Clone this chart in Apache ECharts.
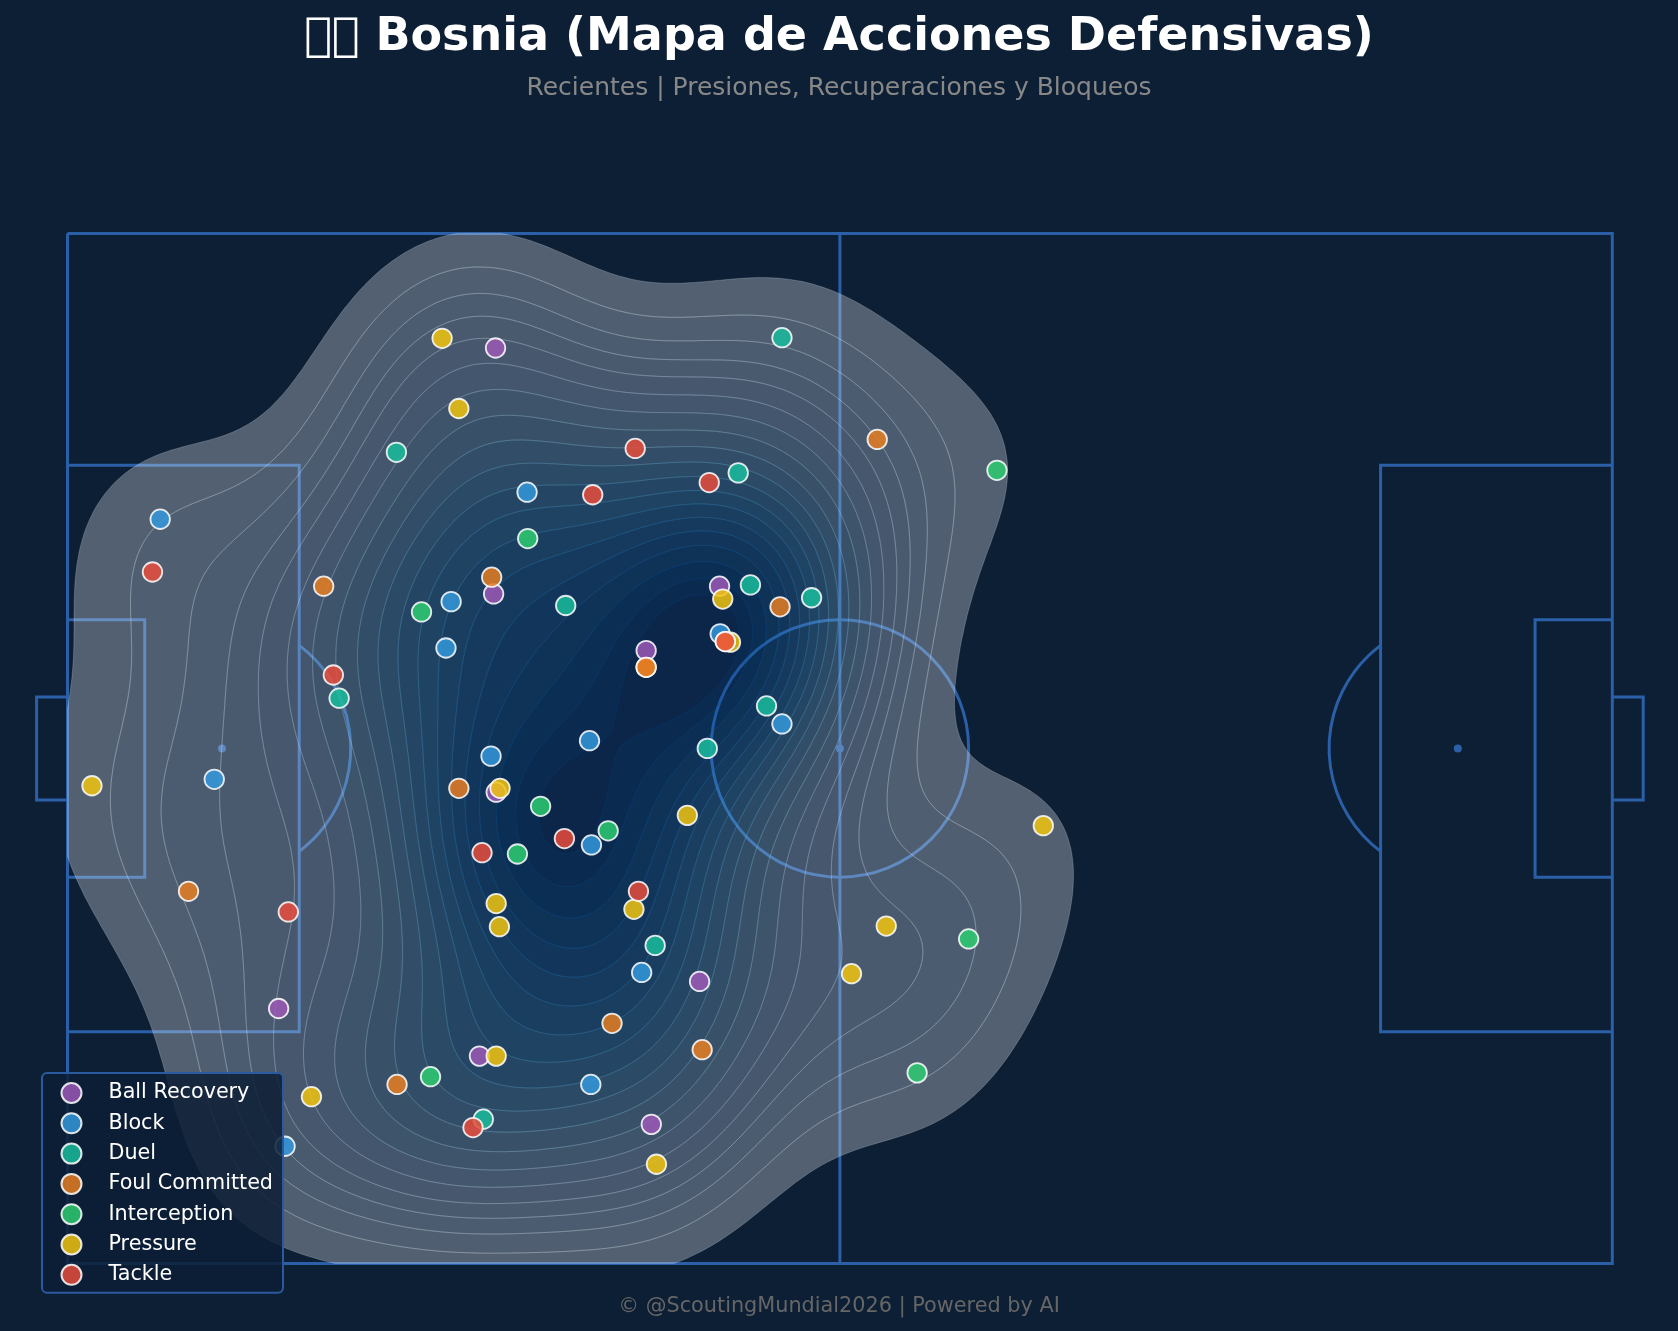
<!DOCTYPE html>
<html>
<head>
<meta charset="utf-8">
<style>html,body{margin:0;padding:0;background:#0d1f35;}#c{width:1678px;height:1331px;}</style>
<script src="https://cdn.jsdelivr.net/npm/echarts@6/dist/echarts.min.js"></script>
</head>
<body>
<div id="c"></div>
<script>
const ballRecovery=[[33.25,8.9],[50.65,27.4],[33.1,28.0],[44.95,32.4],[33.3,43.4],[16.4,60.2],[32.0,63.9],[49.1,58.1],[45.35,69.2]];
const block=[[7.2,22.2],[35.7,20.1],[29.8,28.6],[29.4,32.2],[50.7,31.1],[55.5,38.1],[40.55,39.4],[32.9,40.6],[11.4,42.4],[40.7,47.5],[44.6,57.4],[40.65,66.1],[16.9,70.9]];
const duel=[[55.5,8.1],[25.55,17.0],[52.1,18.6],[53.05,27.3],[57.8,28.3],[38.7,28.9],[21.1,36.1],[54.3,36.7],[49.7,40.0],[45.65,55.3],[32.3,68.8]];
const foul=[[62.9,16.0],[19.9,27.4],[32.95,26.7],[55.35,29.0],[44.95,33.7],[44.95,33.7],[30.4,43.1],[9.4,51.1],[42.3,61.35],[49.3,63.4],[25.6,66.1]];
const interception=[[72.2,18.4],[35.75,23.7],[27.5,29.4],[36.75,44.5],[42.0,46.4],[34.95,48.2],[70.0,54.8],[66.0,65.2],[28.2,65.5]];
const pressure=[[29.1,8.15],[30.4,13.6],[50.9,28.4],[51.5,31.75],[51.1,31.7],[1.9,42.9],[33.6,43.1],[48.15,45.2],[44.0,52.5],[33.3,52.05],[33.55,53.85],[63.6,53.8],[60.9,57.5],[75.8,46.0],[33.3,63.9],[18.95,67.05],[45.75,72.3]];
const tackle=[[44.1,16.7],[40.8,20.3],[49.85,19.35],[6.6,26.3],[20.65,34.3],[51.1,31.7],[38.6,47.0],[32.2,48.1],[44.35,51.1],[17.15,52.7],[31.5,69.45]];

const actionNames=['Ball Recovery','Block','Duel','Foul Committed','Interception','Pressure','Tackle'];
const actionPoints=[ballRecovery,block,duel,foul,interception,pressure,tackle];
const actionColors=['#9b59b6','#3498db','#1abc9c','#e67e22','#2ecc71','#f1c40f','#e74c3c'];

const pitchLines=[
 [[0,0],[120,0],[120,80],[0,80],[0,0]],
 [[60,0],[60,80]],
 [[0,18],[18,18],[18,62],[0,62]],
 [[0,30],[6,30],[6,50],[0,50]],
 [[0,36],[-2.4,36],[-2.4,44],[0,44]],
 [[120,18],[102,18],[102,62],[120,62]],
 [[120,30],[114,30],[114,50],[120,50]],
 [[120,36],[122.4,36],[122.4,44],[120,44]]
];
const pitchArcs=[[60,40,10,0,360],[12,40,10,-53.13,53.13],[108,40,10,126.87,233.13]];
const pitchSpots=[[12,40],[60,40],[108,40]];

const bluesStops=['#f7fbff','#deebf7','#c6dbef','#9ecae1','#6baed6','#4292c6','#2171b5','#08519c','#08306b'];
const KDE_LEVELS=20, KDE_THRESH=0.05, BW_ADJUST=1, GRID_N=200;

function bluesAt(t){
  t=Math.max(0,Math.min(1,t))*(bluesStops.length-1);
  const i=Math.min(Math.floor(t),bluesStops.length-2),f=t-i;
  const p=h=>[1,3,5].map(k=>parseInt(h.substr(k,2),16));
  const a=p(bluesStops[i]),b=p(bluesStops[i+1]);
  return 'rgb('+a.map((v,k)=>Math.round(v+(b[k]-v)*f)).join(',')+')';
}

// Density surface derived from the plotted points (Gaussian KDE, iso-proportion levels)
function buildBands(){
  const pts=actionPoints.flat(),n=pts.length;
  const mx=pts.reduce((s,p)=>s+p[0],0)/n,my=pts.reduce((s,p)=>s+p[1],0)/n;
  let cxx=0,cyy=0,cxy=0;
  pts.forEach(p=>{cxx+=(p[0]-mx)**2;cyy+=(p[1]-my)**2;cxy+=(p[0]-mx)*(p[1]-my);});
  cxx/=n-1;cyy/=n-1;cxy/=n-1;
  const fac=Math.pow(n,-1/6)*BW_ADJUST,f2=fac*fac;
  const a=cxx*f2,b=cxy*f2,d=cyy*f2,det=a*d-b*b;
  const ia=d/det,ib=-b/det,id=a/det;
  const xsv=pts.map(p=>p[0]),ysv=pts.map(p=>p[1]);
  const bx=Math.sqrt(a),by=Math.sqrt(d);
  const x0=Math.max(0,Math.min(...xsv)-3*bx),x1=Math.min(120,Math.max(...xsv)+3*bx);
  const y0=Math.max(0,Math.min(...ysv)-3*by),y1=Math.min(80,Math.max(...ysv)+3*by);
  const xs=[],ys=[];
  for(let i=0;i<GRID_N;i++){xs.push(x0+(x1-x0)*i/(GRID_N-1));ys.push(y0+(y1-y0)*i/(GRID_N-1));}
  const vals=[];
  const gx=[xs[0],...xs,xs[GRID_N-1]],gy=[ys[0],...ys,ys[GRID_N-1]];
  const W=GRID_N+2,H=GRID_N+2,g=new Float64Array(W*H).fill(-1);
  for(let j=0;j<GRID_N;j++)for(let i=0;i<GRID_N;i++){
    let s=0;
    for(let k=0;k<n;k++){
      const dx=xs[i]-pts[k][0],dy=ys[j]-pts[k][1];
      s+=Math.exp(-0.5*(ia*dx*dx+2*ib*dx*dy+id*dy*dy));
    }
    g[(j+1)*W+i+1]=s;vals.push(s);
  }
  vals.sort((p,q)=>q-p);
  const tot=vals.reduce((p,q)=>p+q,0),cum=[];let acc=0;
  vals.forEach(v=>{acc+=v;cum.push(acc/tot);});
  const levels=[];
  for(let l=0;l<KDE_LEVELS;l++){
    const q=KDE_THRESH+(1-KDE_THRESH)*l/(KDE_LEVELS-1);
    let idx=cum.findIndex(c=>c>=1-q);
    if(idx<0)idx=vals.length-1;
    levels.push(vals[idx]);
  }
  function rings(L,top){
    if(top)return [];
    const next=new Map(),pos=new Map();
    const eid=(i,j,v)=>2*(j*W+i)+(v?1:0);
    const ep=(i,j,v)=>{
      const id=eid(i,j,v);
      if(!pos.has(id)){
        const p=g[j*W+i],q=v?g[(j+1)*W+i]:g[j*W+i+1],t=(L-p)/(q-p);
        pos.set(id,v?[gx[i],gy[j]+(gy[j+1]-gy[j])*t]:[gx[i]+(gx[i+1]-gx[i])*t,gy[j]]);
      }
      return id;
    };
    for(let j=0;j<H-1;j++)for(let i=0;i<W-1;i++){
      const c=[g[j*W+i],g[j*W+i+1],g[(j+1)*W+i+1],g[(j+1)*W+i]];
      const e=[[i,j,0],[i+1,j,1],[i,j+1,0],[i,j,1]];
      const cr=[];
      for(let k=0;k<4;k++){
        const p=c[k],q=c[(k+1)%4];
        if(p<L&&q>=L)cr.push([1,k]);else if(p>=L&&q<L)cr.push([0,k]);
      }
      if(!cr.length)continue;
      for(let m=0;m<cr.length;m++){
        if(cr[m][0]===1){
          const x=cr[(m+1)%cr.length];
          const ea=e[cr[m][1]],ex=e[x[1]];
          next.set(ep(ex[0],ex[1],ex[2]),ep(ea[0],ea[1],ea[2]));
        }
      }
    }
    const out=[],seen=new Set();
    next.forEach((_,s)=>{
      if(seen.has(s))return;
      const r=[];let c=s;
      while(c!==undefined&&!seen.has(c)){seen.add(c);r.push(pos.get(c));c=next.get(c);}
      if(r.length>2)out.push(r);
    });
    return out;
  }
  const all=levels.map((L,i)=>rings(L,i===levels.length-1));
  const bands=[];
  const lo=levels[0],hi=levels[levels.length-1];
  for(let i=0;i<levels.length-1;i++){
    const mid=(levels[i]+levels[i+1])/2;
    bands.push({outer:all[i],inner:all[i+1],color:bluesAt((mid-lo)/(hi-lo))});
  }
  return bands;
}
const bands=buildBands();

const font='"DejaVu Sans"';
const chart=echarts.init(document.getElementById('c'),null,{renderer:'canvas'});
const LINE='#2b60a8';

function renderPitch(params,api){
  const children=[];
  pitchLines.forEach(l=>{
    children.push({type:'polyline',shape:{points:l.map(p=>api.coord(p))},style:{fill:null,stroke:LINE,lineWidth:3,lineJoin:'miter'}});
  });
  const unit=api.size([1,1])[0];
  pitchArcs.forEach(a=>{
    const c=api.coord([a[0],a[1]]);
    children.push({type:'arc',shape:{cx:c[0],cy:c[1],r:a[2]*unit,startAngle:a[3]*Math.PI/180,endAngle:a[4]*Math.PI/180,clockwise:true},style:{fill:null,stroke:LINE,lineWidth:3}});
  });
  pitchSpots.forEach(s=>{
    const c=api.coord(s);
    children.push({type:'circle',shape:{cx:c[0],cy:c[1],r:4},style:{fill:LINE}});
  });
  return {type:'group',children};
}
function renderBand(params,api){
  const b=bands[api.value(0)];
  let d='';
  const add=(r,rev)=>{
    const pts=rev?r.slice().reverse():r;
    pts.forEach((p,i)=>{const c=api.coord(p);d+=(i?'L':'M')+c[0].toFixed(1)+' '+c[1].toFixed(1);});
    d+='Z';
  };
  b.outer.forEach(r=>add(r,false));
  b.inner.forEach(r=>add(r,true));
  return {type:'path',shape:{pathData:d},style:{fill:b.color,stroke:b.color,lineWidth:0.7,opacity:0.3}};
}

chart.setOption({
  backgroundColor:'#0d1f35',
  animation:false,
  title:[
    {text:'\u{10FFFD}\u{10FFFD} Bosnia (Mapa de Acciones Defensivas)',left:839,top:15,padding:0,textAlign:'center',textStyle:{color:'#ffffff',fontSize:46,fontWeight:'bold',fontFamily:font}},
    {text:'Recientes | Presiones, Recuperaciones y Bloqueos',left:839,top:76,padding:0,textAlign:'center',textStyle:{color:'#888888',fontSize:25,fontWeight:'normal',fontFamily:font}},
    {text:'© @ScoutingMundial2026 | Powered by AI',left:839,top:1296,padding:0,textAlign:'center',textStyle:{color:'#666666',fontSize:20.8,fontWeight:'normal',fontFamily:font}}
  ],
  grid:{left:67.5,top:233.4,width:1544.8,height:1030,containLabel:false},
  xAxis:{type:'value',min:0,max:120,show:false},
  yAxis:{type:'value',min:0,max:80,inverse:true,show:false},
  legend:{
    show:true,orient:'vertical',left:42,top:1073,
    data:actionNames,icon:'circle',itemWidth:40,itemHeight:20,itemGap:8.3,
    padding:[9,10,7,18.5],
    backgroundColor:'rgba(13,31,53,0.85)',borderColor:'#2b5a9e',borderWidth:2,borderRadius:5,
    textStyle:{color:'#ffffff',fontSize:20.7,fontFamily:font,padding:[0,0,0,12]},
    z:10,selectedMode:false
  },
  tooltip:{show:false},
  series:[
    {type:'custom',coordinateSystem:'cartesian2d',data:[[0]],renderItem:renderPitch,silent:true,z:1,clip:false},
    {type:'custom',coordinateSystem:'cartesian2d',data:bands.map((_,i)=>[i]),renderItem:renderBand,silent:true,z:2,clip:false},
    ...actionNames.map((name,i)=>({
      name,type:'scatter',data:actionPoints[i],symbol:'circle',symbolSize:19.5,z:3,clip:false,
      itemStyle:{color:actionColors[i],opacity:0.85,borderColor:'#ffffff',borderWidth:1.8}
    }))
  ]
});
</script>
</body>
</html>
